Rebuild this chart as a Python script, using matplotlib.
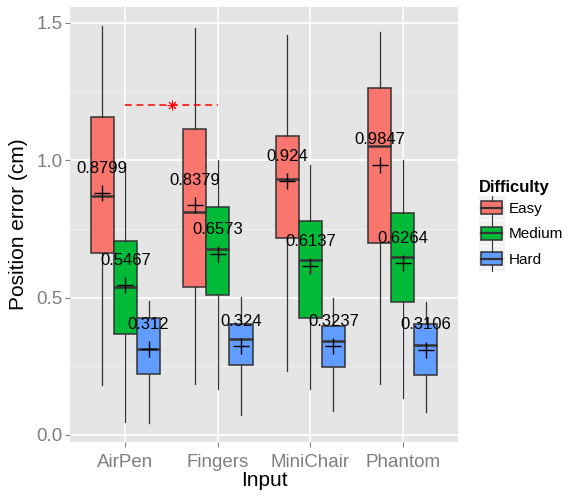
import numpy as np
import matplotlib
matplotlib.use('Agg')
import matplotlib.pyplot as plt
from matplotlib.patches import Rectangle, Patch
from matplotlib.lines import Line2D
from matplotlib.legend_handler import HandlerBase

plt.rcParams['font.family'] = ['Liberation Sans', 'DejaVu Sans']

# Input devices and difficulty levels
inputs = ['AirPen', 'Fingers', 'MiniChair', 'Phantom']
levels = ['Easy', 'Medium', 'Hard']
colors = ['#F8766D', '#00BA38', '#619CFF']

# Box statistics per difficulty, one value per input (cm)
easy_lo   = [0.181, 0.186, 0.233, 0.186]
easy_q1   = [0.664, 0.540, 0.716, 0.698]
easy_med  = [0.870, 0.813, 0.931, 1.052]
easy_q3   = [1.159, 1.113, 1.090, 1.264]
easy_hi   = [1.490, 1.480, 1.455, 1.466]
easy_mean = [0.8799, 0.8379, 0.924, 0.9847]

med_lo   = [0.047, 0.169, 0.166, 0.134]
med_q1   = [0.367, 0.510, 0.427, 0.485]
med_med  = [0.538, 0.678, 0.637, 0.647]
med_q3   = [0.705, 0.831, 0.780, 0.807]
med_hi   = [0.990, 1.000, 0.983, 1.000]
med_mean = [0.5467, 0.6573, 0.6137, 0.6264]

hard_lo   = [0.045, 0.073, 0.088, 0.085]
hard_q1   = [0.221, 0.255, 0.249, 0.217]
hard_med  = [0.312, 0.351, 0.343, 0.328]
hard_q3   = [0.427, 0.403, 0.397, 0.404]
hard_hi   = [0.489, 0.501, 0.500, 0.485]
hard_mean = [0.312, 0.324, 0.3237, 0.3106]

mean_labels = [['0.8799', '0.8379', '0.924', '0.9847'],
               ['0.5467', '0.6573', '0.6137', '0.6264'],
               ['0.312', '0.324', '0.3237', '0.3106']]

# significant pair (AirPen vs Fingers, Easy)
sig_pair = [1, 2]
sig_y = 1.2

groups = [
    (easy_lo, easy_q1, easy_med, easy_q3, easy_hi, easy_mean),
    (med_lo, med_q1, med_med, med_q3, med_hi, med_mean),
    (hard_lo, hard_q1, hard_med, hard_q3, hard_hi, hard_mean),
]


class BoxKey(HandlerBase):
    # legend key drawn as a small boxplot glyph
    def create_artists(self, legend, orig_handle, xdescent, ydescent,
                       width, height, fontsize, trans):
        x0, y0 = -xdescent, -ydescent
        bg = Rectangle((x0, y0), width, height, fc='#F2F2F2', ec='none',
                       transform=trans)
        box = Rectangle((x0 + width * 0.09, y0 + height * 0.24),
                        width * 0.82, height * 0.52,
                        fc=orig_handle.get_facecolor(), ec='#333333',
                        lw=1.1, transform=trans)
        xm = x0 + width / 2
        med = Line2D([x0 + width * 0.09, x0 + width * 0.91],
                     [y0 + height / 2] * 2, color='#333333', lw=1.6,
                     transform=trans)
        wu = Line2D([xm, xm], [y0 + height * 0.76, y0 + height], color='#333333',
                    lw=0.8, transform=trans)
        wl = Line2D([xm, xm], [y0, y0 + height * 0.24], color='#333333',
                    lw=0.8, transform=trans)
        return [bg, box, med, wu, wl]


fig = plt.figure(figsize=(5.69, 4.97), dpi=100)
ax = fig.add_axes([70 / 569, 1 - 442.3 / 497, 388.3 / 569, 435.6 / 497])
ax.set_facecolor('#E5E5E5')

x = np.arange(1, len(inputs) + 1)
for j, (lo, q1, md, q3, hi, mn) in enumerate(groups):
    stats = []
    for i in range(len(inputs)):
        stats.append(dict(whislo=lo[i], q1=q1[i], med=md[i], q3=q3[i],
                          whishi=hi[i], mean=mn[i], fliers=[]))
    pos = x + (j - 1) * 0.25
    bp = ax.bxp(stats, positions=pos, widths=0.25, patch_artist=True,
                showmeans=True, showcaps=False, showfliers=False,
                boxprops=dict(facecolor=colors[j], edgecolor='#333333', lw=1.1),
                whiskerprops=dict(color='#333333', lw=0.9),
                medianprops=dict(color='#333333', lw=1.8),
                meanprops=dict(marker='+', markeredgecolor='black',
                               markersize=11, markeredgewidth=1.0))
    for i in range(len(inputs)):
        ax.text(pos[i], mn[i] + 0.09, mean_labels[j][i], ha='center',
                va='center', fontsize=12, color='black', zorder=5)

# significance marker
ax.plot(sig_pair, [sig_y, sig_y], color='#FF0000', ls=(0, (4.5, 3)), lw=1.1, zorder=4)
ax.plot(np.mean(sig_pair), sig_y, marker=(8, 2, 0), color='#FF0000',
        markersize=7, markeredgewidth=0.7, zorder=4)

ax.set_xlim(0.4, 4.6)
ax.set_ylim(-0.0266, 1.5593)
ax.set_xticks(x)
ax.set_xticklabels(inputs)
ax.set_yticks([0.0, 0.5, 1.0, 1.5])
ax.set_yticklabels(['0.0', '0.5', '1.0', '1.5'])
ax.set_yticks([0.25, 0.75, 1.25], minor=True)
ax.grid(True, which='major', color='white', lw=1.2)
ax.grid(True, which='minor', axis='y', color='#F2F2F2', lw=0.6)
ax.set_axisbelow(True)
for s in ax.spines.values():
    s.set_visible(False)
ax.tick_params(which='major', colors='#7F7F7F', length=3.5, width=0.8,
               labelsize=13.5, pad=2)
ax.tick_params(axis='x', which='major', pad=5)
ax.tick_params(which='minor', length=0)
ax.set_xlabel('Input', fontsize=15, labelpad=0)
ax.set_ylabel('Position error (cm)', fontsize=15, labelpad=6)

handles = [Patch(facecolor=c) for c in colors]
leg = fig.legend(handles, levels, title='Difficulty', loc='upper left',
                 bbox_to_anchor=(471 / 569, 1 - 172 / 497), frameon=False,
                 handler_map={Patch: BoxKey()}, fontsize=11,
                 title_fontproperties={'weight': 'bold', 'size': 12},
                 handlelength=1.7, handleheight=2.1, labelspacing=0.06,
                 handletextpad=0.3, borderpad=0, alignment='left')

fig.savefig('out.png', dpi=100)
